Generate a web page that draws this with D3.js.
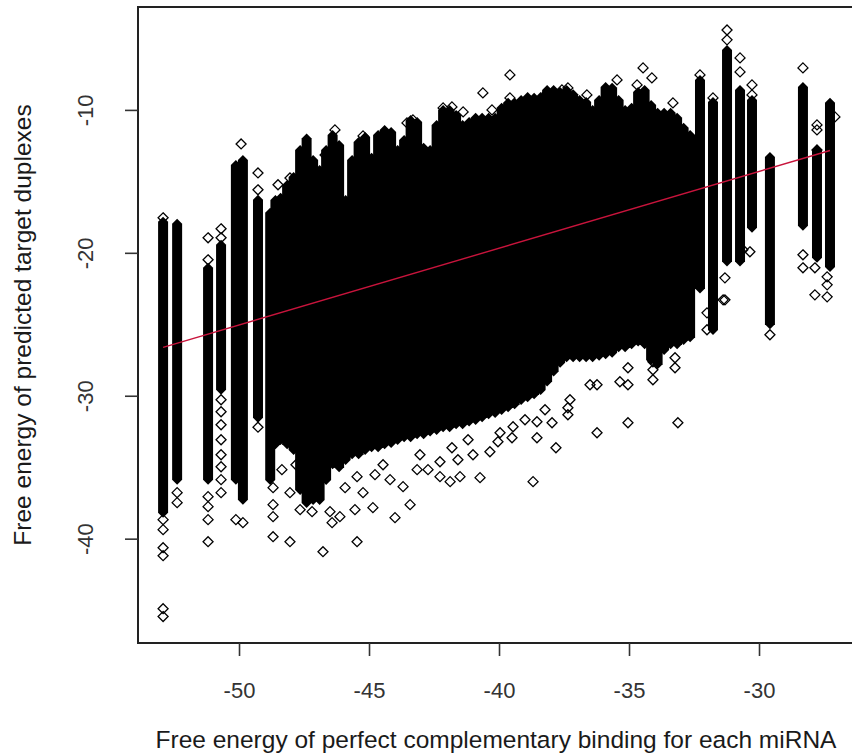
<!DOCTYPE html>
<html><head><meta charset="utf-8">
<script src="https://cdn.jsdelivr.net/npm/d3@7"></script>
<style>html,body{margin:0;padding:0;background:#fff;} svg{display:block;}</style>
</head><body>
<svg id="chart" width="852" height="756"></svg>
<script>
// ---- data ----
const xTicks = [-50, -45, -40, -35, -30];
const yTicks = [-40, -30, -20, -10];
const xTitle = "Free energy of perfect complementary binding for each miRNA";
const yTitle = "Free energy of predicted target duplexes";

// miRNA columns (x = perfect-binding energy), dense range of target energies
const colX = [-52.92, -52.38, -51.19, -50.69, -50.12, -49.85, -49.27,
  -48.8, -48.6, -48.4, -48.15, -47.9, -47.65, -47.4, -47.15, -46.9, -46.65, -46.4, -46.15,
  -45.9, -45.65, -45.4, -45.15, -44.9, -44.65, -44.4, -44.15, -43.9, -43.65, -43.4, -43.15,
  -42.9, -42.65, -42.4, -42.15, -41.9, -41.65, -41.4, -41.15, -40.9, -40.65, -40.4, -40.15,
  -39.9, -39.65, -39.4, -39.15, -38.9, -38.65, -38.4, -38.15, -37.9, -37.65, -37.4, -37.15,
  -36.9, -36.65, -36.4, -36.15, -35.9, -35.65, -35.4, -35.15, -34.9, -34.65, -34.4, -34.15,
  -33.9, -33.65, -33.4, -33.15, -32.9, -32.65,
  -32.27, -31.77, -31.23, -30.73, -30.27, -29.58, -28.31, -27.77, -27.27];
const colTop = [-17.83, -17.97, -21.05, -19.44, -13.85, -13.5, -16.29,
  -17.2, -16.3, -16.15, -15.25, -14.7, -12.8, -12.0, -13.5, -14.2, -12.8, -11.75, -12.45,
  -16.3, -13.5, -12.25, -11.9, -13.35, -11.75, -11.4, -11.55, -12.8, -12.1, -10.7, -10.85,
  -12.65, -12.8, -11.05, -10.0, -10.0, -10.35, -11.05, -10.85, -10.55, -10.55, -10.55, -10.55,
  -9.85, -9.5, -9.5, -9.3, -9.1, -9.15, -9.1, -8.6, -8.6, -8.75, -8.6, -8.9,
  -9.3, -9.45, -10.0, -9.3, -8.4, -8.45, -9.3, -10.0, -9.85, -8.75, -8.6, -9.65,
  -10.2, -10.2, -10.2, -10.55, -11.25, -11.75,
  -7.9, -9.45, -5.8, -8.6, -9.3, -13.3, -8.4, -12.8, -9.5];
const colBottom = [-38.18, -35.87, -35.87, -29.58, -35.87, -37.27, -31.54,
  -35.9, -33.4, -33.1, -33.4, -33.8, -36.6, -37.5, -37.3, -37.3, -35.9, -34.8, -35.0,
  -34.5, -34.1, -34.1, -33.8, -33.6, -33.6, -33.4, -33.3, -33.1, -32.9, -32.9, -32.7,
  -32.7, -32.5, -32.4, -32.2, -32.2, -32.0, -32.0, -31.8, -31.7, -31.5, -31.3, -31.2,
  -31.0, -30.8, -30.6, -30.3, -30.1, -29.9, -29.6, -29.0, -28.3, -27.7, -27.3, -27.3,
  -27.3, -27.3, -27.3, -27.2, -27.1, -27.0, -26.6, -26.6, -26.4, -26.2, -26.4, -27.5,
  -27.8, -26.8, -26.4, -26.4, -26.1, -25.9,
  -22.5, -25.4, -20.6, -20.6, -18.25, -25.0, -18.1, -20.35, -21.0];

// individual points visible outside the dense columns [x, y]
const outliers = [
  [-52.92,-17.55],[-52.92,-38.67],[-52.92,-39.37],[-52.92,-40.63],[-52.92,-41.19],[-52.92,-44.9],[-52.92,-45.45],
  [-52.38,-36.78],[-52.38,-37.48],
  [-51.19,-18.95],[-51.19,-20.49],[-51.19,-37.06],[-51.19,-37.76],[-51.19,-38.67],[-51.19,-40.21],
  [-50.69,-18.32],[-50.69,-18.95],[-50.69,-30.28],[-50.69,-31.12],[-50.69,-32.03],[-50.69,-33.08],
  [-50.69,-34.13],[-50.69,-34.97],[-50.69,-35.87],[-50.69,-36.78],
  [-49.92,-12.38],[-50.12,-38.67],[-49.85,-38.88],
  [-49.27,-14.41],[-49.27,-15.59],[-49.27,-32.2],
  [-48.04,-14.76],[-48.5,-15.24],[-46.69,-13.15],[-46.31,-11.4],[-45.23,-11.82],[-43.54,-10.91],
  [-43.31,-10.7],[-42.15,-9.86],[-41.81,-9.79],[-41.38,-10.14],[-40.62,-8.81],[-40.27,-10.0],
  [-39.58,-7.55],[-39.58,-9.16],[-38.15,-8.81],[-37.58,-8.6],[-37.35,-8.46],[-36.62,-8.95],
  [-36.69,-9.86],[-35.85,-8.75],[-35.46,-7.9],[-34.69,-8.25],[-34.46,-7.06],[-34.12,-7.76],
  [-33.31,-9.51],[-32.27,-7.55],[-31.77,-9.16],[-31.23,-4.41],[-31.23,-5.1],[-30.73,-6.36],
  [-30.73,-7.34],[-30.27,-8.25],[-30.27,-8.95],[-28.31,-7.06],[-27.77,-11.05],[-27.77,-11.4],
  [-27.77,-12.8],[-27.08,-10.49],[-45.92,-16.64],[-45.92,-17.55],
  [-31.31,-21.75],[-31.31,-23.29],[-30.62,-19.79],[-30.35,-19.93],[-29.58,-25.73],[-28.31,-20.14],
  [-28.31,-21.05],[-27.85,-21.05],[-27.85,-22.94],[-27.38,-22.24],[-27.38,-23.08],[-27.38,-21.68],
  [-33.12,-31.89],[-34.08,-28.88],[-34.08,-28.18],[-34.08,-27.62],[-33.23,-28.04],[-33.23,-27.34],
  [-32.73,-25.73],[-32.0,-25.38],[-32.0,-24.2],[-31.38,-23.29],
  [-37.81,-33.64],[-36.23,-32.59],[-35.04,-31.89],[-37.35,-31.33],[-37.35,-30.84],[-36.23,-29.23],
  [-35.35,-29.02],[-35.04,-29.23],[-35.04,-28.04],
  [-48.69,-39.86],[-48.04,-40.21],[-46.77,-40.91],[-45.46,-40.21],[-45.54,-37.97],[-44.85,-37.83],
  [-44.0,-38.53],[-43.42,-37.62],[-42.73,-35.17],[-42.27,-35.66],[-41.88,-36.01],[-41.5,-35.66],
  [-40.73,-35.73],[-40.04,-33.22],[-39.5,-32.94],[-38.69,-36.01],[-38.54,-32.94],
  [-48.69,-37.62],[-48.69,-38.46],[-48.69,-36.43],[-48.04,-36.78],[-47.65,-37.97],[-47.19,-38.11],
  [-46.42,-38.88],[-46.12,-38.46],[-46.5,-38.11],[-45.23,-36.78],[-45.46,-35.66],[-44.77,-35.52],
  [-44.19,-35.87],[-43.69,-36.36],[-43.15,-35.17],[-42.27,-34.62],[-41.81,-33.64],[-41.58,-34.48],
  [-41.0,-34.13],[-40.35,-33.92],[-39.96,-32.59],[-39.46,-32.17],[-38.54,-31.82],[-37.96,-31.89],
  [-48.35,-35.17],[-47.81,-34.83],[-46.96,-36.01],[-45.92,-36.43],[-44.46,-34.83],[-43.04,-34.13],
  [-41.19,-33.08],[-39.0,-31.68],[-37.27,-30.28],[-36.5,-29.23],[-38.23,-30.98]
];

// fitted regression line end points
const fitX = [-52.92, -27.27];
const fitY = [-26.62, -12.84];

// ---- drawing ----
const m = {left: 138, right: 853, top: 7, bottom: 643};
const svg = d3.select("#chart");
const x = d3.scaleLinear().domain([-53.885, -26.385]).range([m.left, m.right]);
const y = d3.scaleLinear().domain([-47.3, -2.8]).range([m.bottom, m.top]);
const font = "'Liberation Sans', Arial, Helvetica, sans-serif";
const half = 5;
const fmt = d => String(d);

svg.append("defs").append("clipPath").attr("id", "clip")
  .append("rect").attr("x", m.left).attr("y", m.top)
  .attr("width", m.right - m.left).attr("height", m.bottom - m.top);

const plot = svg.append("g").attr("clip-path", "url(#clip)");

const cols = colX.map((v, i) => ({x: v, top: colTop[i], bottom: colBottom[i]}));
plot.append("g").selectAll("path").data(cols).join("path")
  .attr("d", d => {
    const px = x(d.x), t = y(d.top), b = y(d.bottom);
    return `M${px},${t - half}L${px + half},${t}L${px + half},${b}L${px},${b + half}L${px - half},${b}L${px - half},${t}Z`;
  })
  .attr("fill", "#000");

plot.append("g").selectAll("path").data(outliers).join("path")
  .attr("transform", d => `translate(${x(d[0])},${y(d[1])})`)
  .attr("d", `M0,${-half}L${half},0L0,${half}L${-half},0Z`)
  .attr("fill", "none").attr("stroke", "#000").attr("stroke-width", 1.3);

const line = d3.line().x(d => x(d[0])).y(d => y(d[1]));
plot.append("path").datum(fitX.map((v, i) => [v, fitY[i]]))
  .attr("d", line).attr("fill", "none").attr("stroke", "#c8143c").attr("stroke-width", 1.4);

// box
svg.append("rect").attr("x", m.left).attr("y", m.top)
  .attr("width", m.right - m.left).attr("height", m.bottom - m.top)
  .attr("fill", "none").attr("stroke", "#222").attr("stroke-width", 2);

// x axis
const xa = svg.append("g").attr("transform", `translate(0,${m.bottom})`)
  .call(d3.axisBottom(x).tickValues(xTicks).tickSize(13).tickPadding(26).tickFormat(fmt));
xa.select(".domain").remove();
xa.selectAll("line").attr("stroke", "#333").attr("stroke-width", 1.6);
xa.selectAll("text").attr("font-family", font).attr("font-size", 22).attr("fill", "#333");

// y axis
const ya = svg.append("g").attr("transform", `translate(${m.left},0)`)
  .call(d3.axisLeft(y).tickValues(yTicks).tickSize(13).tickFormat(fmt));
ya.select(".domain").remove();
ya.selectAll("line").attr("stroke", "#333").attr("stroke-width", 1.6);
ya.selectAll("text")
  .attr("x", null).attr("dy", null).attr("y", 0)
  .attr("text-anchor", "middle")
  .attr("transform", `translate(${93 - m.left},0) rotate(-90)`)
  .attr("font-family", font).attr("font-size", 22).attr("fill", "#333");

// titles
svg.append("text").attr("x", 496).attr("y", 748).attr("text-anchor", "middle")
  .attr("font-family", font).attr("font-size", 24.5).attr("fill", "#1a1a1a").text(xTitle);
svg.append("text").attr("transform", "translate(31,325) rotate(-90)").attr("text-anchor", "middle")
  .attr("font-family", font).attr("font-size", 24.5).attr("fill", "#1a1a1a").text(yTitle);
</script>
</body></html>
